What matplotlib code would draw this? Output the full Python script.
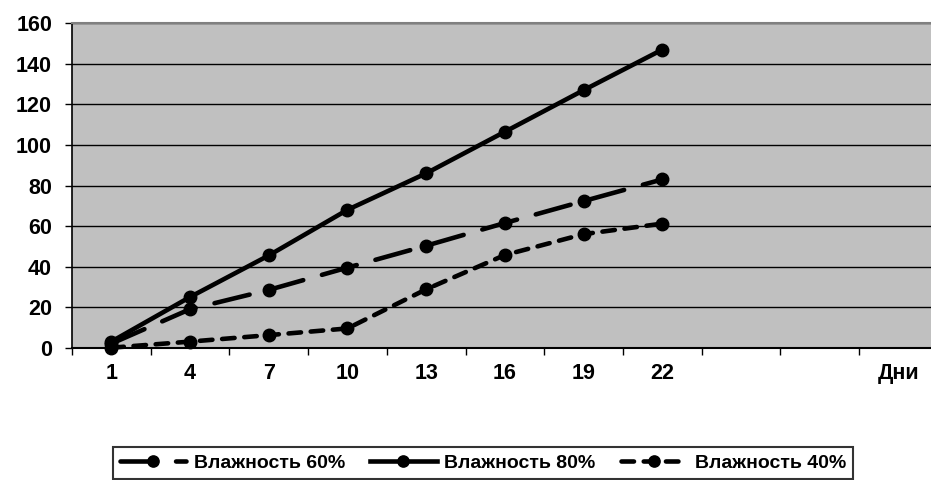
import matplotlib
matplotlib.use("Agg")
import matplotlib.pyplot as plt
from matplotlib.ticker import FixedLocator, NullFormatter

plt.rcParams['font.family'] = ['Liberation Sans', 'DejaVu Sans']
plt.rcParams['font.weight'] = 'bold'
plt.rcParams['lines.scale_dashes'] = False

days = ['1', '4', '7', '10', '13', '16', '19', '22', '', '', 'Дни']
hum60 = [2, 19, 28.5, 39.5, 50.3, 61.5, 72.3, 83]
hum80 = [3, 25, 45.5, 68, 86, 106.5, 127, 147]
hum40 = [0, 3, 6.2, 9.5, 28.8, 45.7, 56, 61.2]
labels = ['Влажность 60%', 'Влажность 80%', 'Влажность 40%']

W, H = 931, 480
fig = plt.figure(figsize=(W / 100, H / 100), dpi=100)
ax = fig.add_axes([72 / W, 1 - 347.7 / H, 865.7 / W, (347.7 - 23.3) / H])
ax.set_facecolor('#C0C0C0')

xs = list(range(1, len(days) + 1))
n = len(hum80)
lw = 3.3
ms = 9
l60, = ax.plot(xs[:n], hum60, color='black', lw=lw, marker='o', ms=ms,
               linestyle=(0, (26, 14)), dash_capstyle='round', label=labels[0])
l80, = ax.plot(xs[:n], hum80, color='black', lw=lw, marker='o', ms=ms,
               linestyle='-', label=labels[1])
l40, = ax.plot(xs[:n], hum40, color='black', lw=lw, marker='o', ms=ms,
               linestyle=(0, (9, 7)), dash_capstyle='round', label=labels[2])
for l in (l60, l80, l40):
    l.set_clip_on(False)

ax.set_xlim(0.5, len(days) + 0.5)
ax.set_ylim(0, 160)
ax.set_yticks(range(0, 161, 20))
ax.yaxis.grid(True, color='black', lw=1)
ax.set_axisbelow(True)

ax.set_xticks(xs)
ax.set_xticklabels(days)
ax.xaxis.set_minor_locator(FixedLocator([x + 0.5 for x in range(0, len(days) + 1)]))
ax.xaxis.set_minor_formatter(NullFormatter())
ax.tick_params(axis='x', which='major', length=0, pad=11, labelsize=15.5)
ax.tick_params(axis='x', which='minor', length=5, width=1, color='black')
ax.tick_params(axis='y', which='major', length=5, width=1, pad=9.4, labelsize=15.5)

for s in ('top', 'right'):
    ax.spines[s].set_color('#808080')
    ax.spines[s].set_linewidth(1.5)
ax.spines['left'].set_color('black')
ax.spines['bottom'].set_color('black')
ax.spines['left'].set_linewidth(1.2)
ax.spines['bottom'].set_linewidth(1.5)

leg = fig.legend(handles=[l60, l80, l40], loc='center',
                 bbox_to_anchor=((101 + 865) / 2 / W, 1 - (448 + 478) / 2 / H),
                 ncol=3, frameon=True, fancybox=False, edgecolor='black',
                 fontsize=14, handlelength=3.4, handletextpad=0.4,
                 columnspacing=1.3, borderpad=0.35, markerscale=0.9)
leg.get_frame().set_linewidth(1.5)

fig.savefig('out.png', dpi=100)
